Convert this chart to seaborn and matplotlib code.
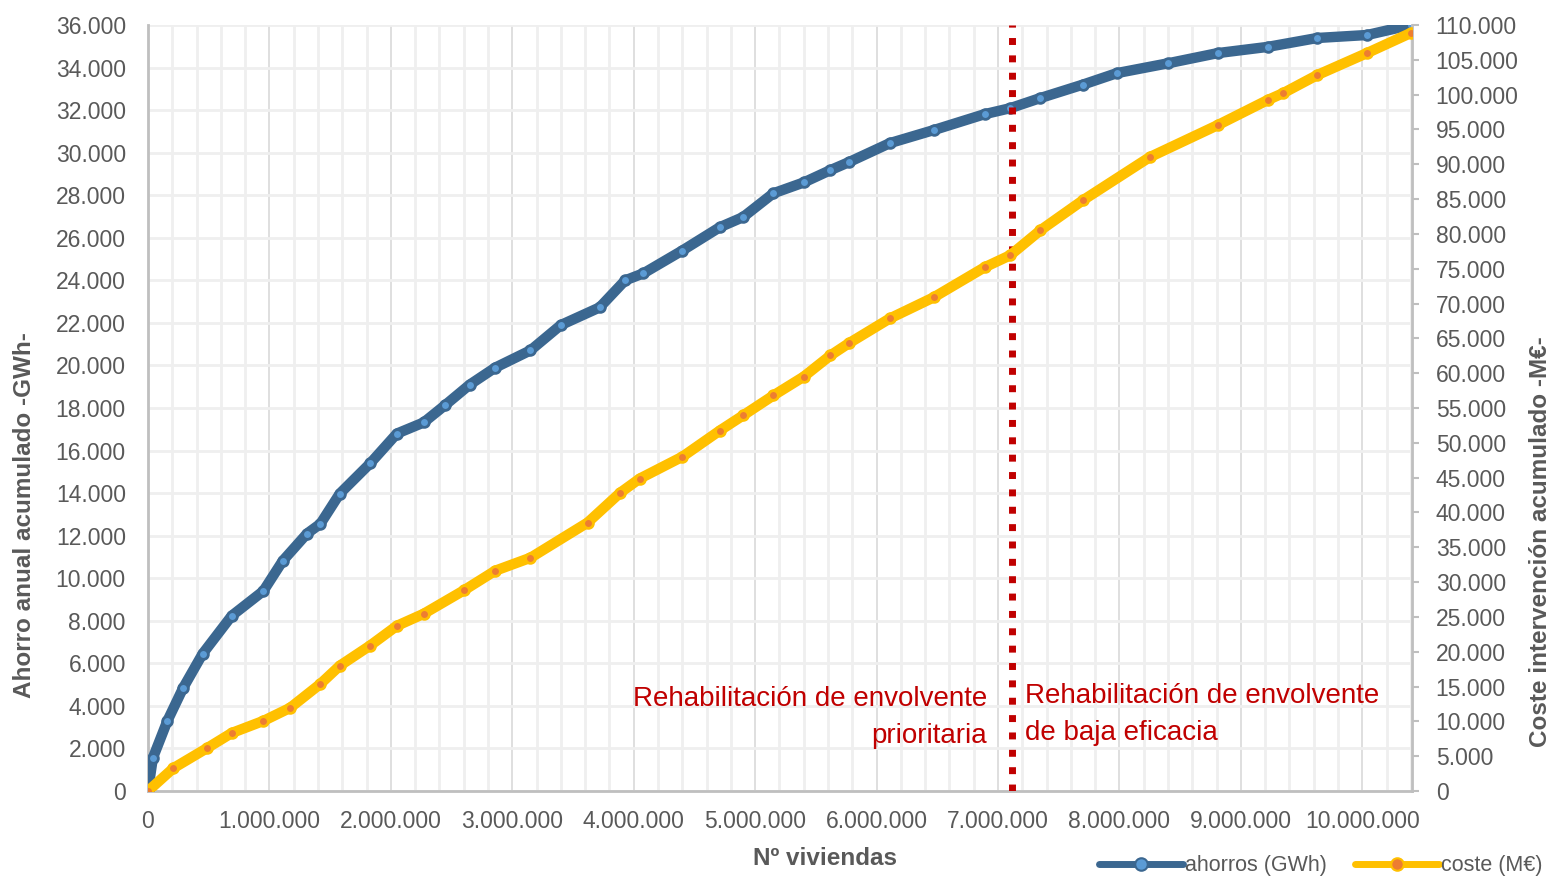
import numpy as np
import pandas as pd
import matplotlib
matplotlib.use('Agg')
import matplotlib.pyplot as plt
from matplotlib.lines import Line2D
from matplotlib.ticker import FuncFormatter, MultipleLocator
import seaborn as sns

# Ahorro anual acumulado (GWh) frente a nº de viviendas
x_ahorro = [0, 0.04e6, 0.16e6, 0.29e6, 0.45e6, 0.69e6, 0.95e6, 1.11e6, 1.31e6, 1.42e6,
            1.58e6, 1.83e6, 2.05e6, 2.27e6, 2.45e6, 2.65e6, 2.86e6, 3.15e6, 3.40e6, 3.72e6,
            3.93e6, 4.08e6, 4.40e6, 4.71e6, 4.90e6, 5.15e6, 5.40e6, 5.62e6, 5.77e6, 6.11e6,
            6.47e6, 6.89e6, 7.10e6, 7.35e6, 7.70e6, 7.98e6, 8.40e6, 8.81e6, 9.22e6, 9.63e6,
            10.04e6, 10.40e6]
ahorro = [0, 1550, 3300, 4850, 6450, 8240, 9400, 10820, 12100, 12560,
          13980, 15400, 16800, 17320, 18150, 19100, 19900, 20710, 21900, 22730,
          24000, 24330, 25400, 26500, 26970, 28090, 28600, 29180, 29550, 30450,
          31060, 31810, 32090, 32570, 33200, 33740, 34200, 34680, 34970, 35390,
          35530, 36000]

# Coste intervención acumulado (M€)
x_coste = [0, 0.21e6, 0.49e6, 0.69e6, 0.95e6, 1.17e6, 1.42e6, 1.58e6, 1.83e6, 2.05e6,
           2.27e6, 2.60e6, 2.86e6, 3.15e6, 3.62e6, 3.89e6, 4.05e6, 4.40e6, 4.71e6, 4.90e6,
           5.15e6, 5.40e6, 5.62e6, 5.77e6, 6.11e6, 6.47e6, 6.89e6, 7.10e6, 7.35e6, 7.70e6,
           8.25e6, 8.81e6, 9.22e6, 9.35e6, 9.63e6, 10.04e6, 10.40e6]
coste = [0, 3300, 6200, 8340, 10070, 11940, 15390, 18000, 20900, 23730,
         25450, 28800, 31640, 33500, 38540, 42850, 44870, 48000, 51770, 53930,
         56800, 59500, 62550, 64280, 67870, 70890, 75210, 76930, 80530, 84840,
         91030, 95630, 99220, 100230, 102820, 105980, 108860]

x_limite = 7.117e6
texto_izq = 'Rehabilitación de envolvente\nprioritaria'
texto_der = 'Rehabilitación de envolvente\nde baja eficacia'

AZUL, AZUL_CLARO = '#3B6790', '#5B9BD5'
AMARILLO, NARANJA = '#FFC000', '#ED7D31'
ROJO = '#C00000'
GRIS = '#595959'

sns.set_style('white')
plt.rcParams['font.family'] = ['Liberation Sans', 'DejaVu Sans']

df_ahorro = pd.DataFrame({'viviendas': x_ahorro, 'valor': ahorro})
df_coste = pd.DataFrame({'viviendas': x_coste, 'valor': coste})

fig = plt.figure(figsize=(15.56, 8.77), dpi=100)
ax = fig.add_axes([0.0951, 0.098, 0.8124, 0.8735])
ax2 = ax.twinx()

sns.lineplot(x='viviendas', y='valor', data=df_ahorro, ax=ax, color=AZUL, linewidth=7.5,
             marker='o', markersize=7, markerfacecolor=AZUL_CLARO, markeredgecolor=AZUL,
             markeredgewidth=2, legend=False, zorder=3)
sns.lineplot(x='viviendas', y='valor', data=df_coste, ax=ax2, color=AMARILLO, linewidth=7.5,
             marker='o', markersize=7, markerfacecolor=NARANJA, markeredgecolor=AMARILLO,
             markeredgewidth=2, legend=False, zorder=3)

ax.axvline(x_limite, color=ROJO, linewidth=5, linestyle=(0, (1, 1.5)), zorder=4)

ax.set_xlim(0, 10.41e6)
ax.set_ylim(0, 36000)
ax2.set_ylim(0, 110000)

miles = FuncFormatter(lambda v, p: f'{int(round(v)):,}'.replace(',', '.'))
ax.xaxis.set_major_locator(MultipleLocator(1e6))
ax.xaxis.set_minor_locator(MultipleLocator(2e5))
ax.yaxis.set_major_locator(MultipleLocator(2000))
ax2.yaxis.set_major_locator(MultipleLocator(5000))
for a in (ax.xaxis, ax.yaxis, ax2.yaxis):
    a.set_major_formatter(miles)

ax.grid(True, which='minor', axis='x', color='#EFEFEF', linewidth=2)
ax.grid(True, which='major', axis='x', color='#D9D9D9', linewidth=1.2)
ax.grid(True, which='major', axis='y', color='#EFEFEF', linewidth=2)
ax.set_axisbelow(True)
ax2.grid(False)

for a in (ax, ax2):
    for s in a.spines.values():
        s.set_visible(False)
ax.spines['left'].set_visible(True)
ax.spines['bottom'].set_visible(True)
ax2.spines['right'].set_visible(True)
for s in (ax.spines['left'], ax.spines['bottom'], ax2.spines['right']):
    s.set_color('#BFBFBF')
    s.set_linewidth(2)

ax.tick_params(axis='y', which='both', length=0, labelsize=16.5, labelcolor=GRIS, pad=16)
ax.tick_params(axis='x', which='both', length=0, labelsize=16.5, labelcolor=GRIS, pad=14)
ax2.tick_params(axis='y', length=5, width=1.5, color='#BFBFBF', labelsize=16.5,
                labelcolor=GRIS, pad=12)
ax.set_xlabel('')
ax.set_ylabel('')
ax2.set_ylabel('')

fig.text(0.530, 0.021, 'Nº viviendas', ha='center', va='center', fontsize=17.5,
         fontweight='bold', color=GRIS)
fig.text(0.016, 0.413, 'Ahorro anual acumulado -GWh-', ha='center', va='center',
         rotation=90, fontsize=17.5, fontweight='bold', color=GRIS)
fig.text(0.990, 0.382, 'Coste intervención acumulado -M€-', ha='center', va='center',
         rotation=90, fontsize=17.5, fontweight='bold', color=GRIS)

ax.text(6.91e6, 3480, texto_izq, ha='right', va='center', fontsize=20, color=ROJO,
        linespacing=1.55)
ax.text(7.22e6, 3580, texto_der, ha='left', va='center', fontsize=20, color=ROJO,
        linespacing=1.55)

handles = [Line2D([], [], color=AZUL, linewidth=5, marker='o', markersize=9,
                  markerfacecolor=AZUL_CLARO, markeredgecolor=AZUL, markeredgewidth=1.5),
           Line2D([], [], color=AMARILLO, linewidth=5, marker='o', markersize=9,
                  markerfacecolor=NARANJA, markeredgecolor=AMARILLO, markeredgewidth=1.5)]
leg = fig.legend(handles, ['ahorros (GWh)', 'coste (M€)'], loc='center right',
                 bbox_to_anchor=(1.004, 0.013), ncol=2, frameon=False, fontsize=15.5,
                 handlelength=3.9, handletextpad=0.1, columnspacing=1.3)
for t in leg.get_texts():
    t.set_color(GRIS)

fig.savefig('out.png', dpi=100)
